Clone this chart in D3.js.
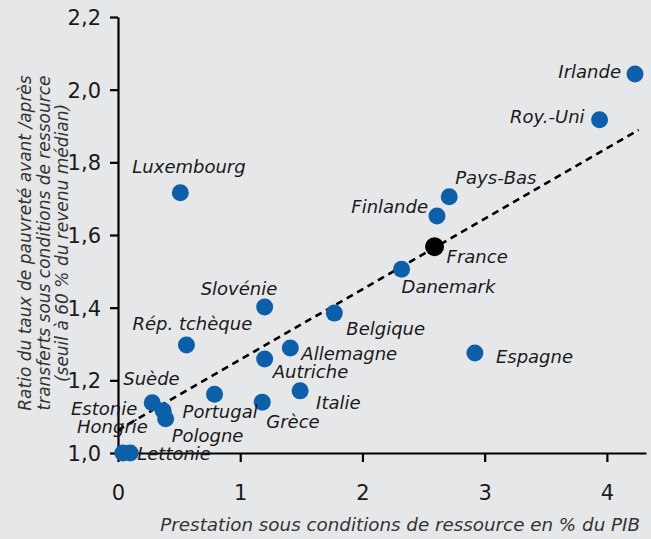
<!DOCTYPE html>
<html>
<head>
<meta charset="utf-8">
<script src="https://cdn.jsdelivr.net/npm/d3@7"></script>
<style>
  body { margin: 0; background: #e6e7e9; }
  svg { display: block; font-family: "DejaVu Sans", sans-serif; }
  .lbl { font-style: italic; font-size: 18px; fill: #1a1a1a; }
  .axis text { font-size: 21px; fill: #1a1a1a; font-family: "DejaVu Sans", sans-serif; }
  .axis path, .axis line { stroke: #000; stroke-width: 2.2px; }
  .title { font-style: italic; fill: #333; }
</style>
</head>
<body>
<div id="chart"></div>
<script>
let countries = ["Irlande", "Roy.-Uni", "Pays-Bas", "Finlande", "France", "Danemark",
    "Luxembourg", "Slovénie", "Belgique", "Rép. tchèque", "Allemagne", "Autriche",
    "Espagne", "Italie", "Portugal", "Grèce", "Suède", "Estonie", "Pologne",
    "Hongrie", "Lettonie"];
let prestation = [4.23, 3.94, 2.71, 2.61, 2.59, 2.32,
    0.51, 1.20, 1.77, 0.56, 1.41, 1.20,
    2.92, 1.49, 0.79, 1.18, 0.28, 0.37, 0.39,
    0.04, 0.10];
let ratio = [2.043, 1.917, 1.705, 1.652, 1.568, 1.506,
    1.716, 1.402, 1.385, 1.297, 1.289, 1.259,
    1.275, 1.171, 1.162, 1.140, 1.138, 1.116, 1.094,
    1.0, 1.0];
let xTicks = [0, 1, 2, 3, 4];
let yTicks = [1.0, 1.2, 1.4, 1.6, 1.8, 2.0, 2.2];
// droite de tendance (début, fin)
let trendX = [0, 4.26];
let trendY = [1.063, 1.889];

// position des étiquettes par rapport au point
let labelPos = {
    "Irlande": [-14, 4, "end"], "Roy.-Uni": [-15, 3, "end"], "Pays-Bas": [6, -13, "start"],
    "Finlande": [-9, -3, "end"], "France": [12, 16, "start"], "Danemark": [0, 24, "start"],
    "Luxembourg": [-48, -20, "start"], "Slovénie": [-64, -12, "start"], "Belgique": [12, 22, "start"],
    "Rép. tchèque": [-54, -15, "start"], "Allemagne": [11, 12, "start"], "Autriche": [8, 19, "start"],
    "Espagne": [21, 10, "start"], "Italie": [16, 18, "start"], "Portugal": [-32, 24, "start"],
    "Grèce": [4, 26, "start"], "Suède": [-29, -18, "start"], "Estonie": [-26, 4, "end"],
    "Pologne": [6, 23, "start"], "Hongrie": [25, -20, "end"], "Lettonie": [7, 7, "start"]
};

let W = 651, H = 539;
let svg = d3.select("#chart").append("svg")
    .attr("width", W)
    .attr("height", H);

let x = d3.scaleLinear().domain([0, 4.32]).range([118, 646]);
let y = d3.scaleLinear().domain([1.0, 2.2]).range([453, 17]);

let fmt = d3.format(".1f");

svg.append("g")
    .attr("class", "axis")
    .attr("transform", "translate(0,453)")
    .call(d3.axisBottom(x).tickValues(xTicks).tickSizeOuter(0).tickSizeInner(9).tickPadding(23).tickFormat(d3.format("d")));

let yAxisG = svg.append("g")
    .attr("class", "axis")
    .attr("transform", "translate(118,0)")
    .call(d3.axisLeft(y).tickValues(yTicks).tickSizeOuter(0).tickSizeInner(8).tickPadding(9)
        .tickFormat(d => fmt(d).replace(".", ",")));

yAxisG.selectAll(".tick text").attr("dy", "0.36em");

// droite en pointillés
svg.append("line")
    .attr("x1", x(trendX[0])).attr("y1", y(trendY[0]))
    .attr("x2", x(trendX[1])).attr("y2", y(trendY[1]))
    .attr("stroke", "#000")
    .attr("stroke-width", 2.6)
    .attr("stroke-dasharray", "7,5");

let data = countries.map((c, i) => ({name: c, px: prestation[i], r: ratio[i]}));

svg.selectAll("circle.pt")
    .data(data)
    .enter()
    .append("circle")
    .attr("class", "pt")
    .attr("cx", d => x(d.px))
    .attr("cy", d => y(d.r))
    .attr("r", d => d.name === "France" ? 9.5 : 8.5)
    .attr("fill", d => d.name === "France" ? "#000" : "#0e5fa9");

svg.selectAll("text.lbl")
    .data(data)
    .enter()
    .append("text")
    .attr("class", "lbl")
    .attr("x", d => x(d.px) + labelPos[d.name][0])
    .attr("y", d => y(d.r) + labelPos[d.name][1])
    .attr("text-anchor", d => labelPos[d.name][2])
    .text(d => d.name);

svg.append("text")
    .attr("class", "title")
    .attr("x", 640)
    .attr("y", 531)
    .attr("text-anchor", "end")
    .style("font-size", "18.3px")
    .text("Prestation sous conditions de ressource en % du PIB");

let yTitle = ["Ratio du taux de pauvreté avant /après",
    "transferts sous conditions de ressource",
    "(seuil à 60 % du revenu médian)"];
svg.append("g")
    .attr("transform", "translate(31,243) rotate(-90)")
    .selectAll("text")
    .data(yTitle)
    .enter()
    .append("text")
    .attr("class", "title")
    .attr("text-anchor", "middle")
    .style("font-size", "17px")
    .attr("x", 0)
    .attr("y", (d, i) => i * 18.5)
    .text(d => d);
</script>
</body>
</html>
